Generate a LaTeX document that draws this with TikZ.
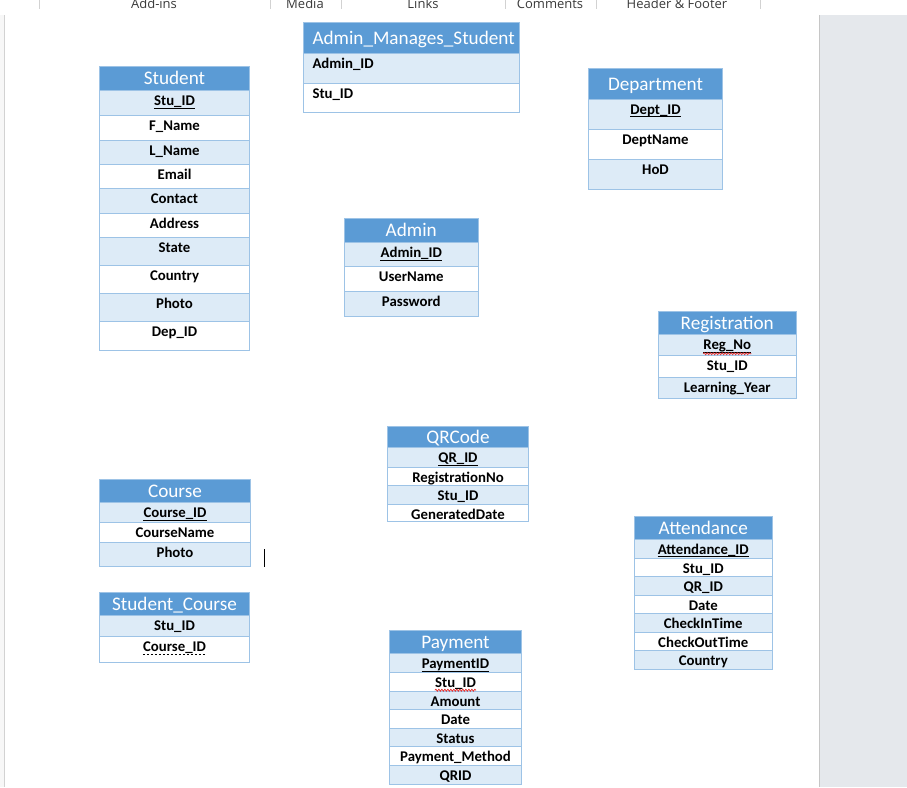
\documentclass[tikz,border=0pt]{standalone}
\usepackage{fontspec}
\setmainfont{Carlito}
\newfontfamily\uifont{Open Sans}
\usetikzlibrary{calc,decorations.pathmorphing}
\definecolor{hdblue}{HTML}{5B9BD5}
\definecolor{rowblue}{HTML}{DDEBF7}
\definecolor{bdr}{HTML}{9DC3E6}
\definecolor{panel}{HTML}{E5E8EC}
\definecolor{uigray}{HTML}{3A3A3A}
\definecolor{wavered}{HTML}{E02828}
\tikzset{
  cellst/.style={rectangle, draw=bdr, line width=0.8pt, inner sep=0pt, outer sep=0pt, anchor=north west},
  hdst/.style={cellst, fill=hdblue},
  ht/.style={inner sep=0pt, text=white, font=\fontsize{19.2}{22}\selectfont},
  ct/.style={inner sep=0pt, text=black, font=\fontsize{14.8}{17}\selectfont\bfseries},
  tx-north/.style={anchor=base},
  tx-north west/.style={anchor=base west},
  nodec/.style={draw=none},
  ulsolid/.style={draw=black, line width=0.8pt},
  uldash/.style={draw=black, line width=0.8pt, dash pattern=on 2.5pt off 1.5pt},
  wavy/.style={draw=wavered, line width=0.7pt, decorate, decoration={snake, segment length=3pt, amplitude=1pt}},
  uitext/.style={inner sep=0pt, anchor=base, text=uigray, font=\uifont\fontsize{13}{15}\selectfont},
  sep/.style={draw=gray!35, line width=0.8pt}
}
% #1 name, #2 x1, #3 x2, #4 y top, #5 y header bottom, #6 title, #7 cell anchor, #8 x offset, #9 rows
\newcommand\ertable[9]{%
  \node[hdst, minimum width={(#3-#2)*1pt}, minimum height={(#5-#4)*1pt}] (#1-h) at (#2,#4) {};
  \node[ht, tx-#7, xshift=#8pt, yshift=-6.3pt] (#1-ht) at (#1-h.center -| #1-h.#7) {#6};
  \foreach \i/\ya/\yb/\txt/\fl/\dec in {#9}{%
    \node[cellst, fill=\fl, minimum width={(#3-#2)*1pt}, minimum height={(\yb-\ya)*1pt}] (#1-\i) at (#2,\ya) {};
    \node[ct, tx-#7, xshift=#8pt, yshift=-15.2pt] (#1-\i t) at (#1-\i.#7) {\txt};
    \draw[\dec] ([yshift=-2.3pt]#1-\i t.base west) -- ([yshift=-2.3pt]#1-\i t.base east);
  }%
}
\begin{document}
\begin{tikzpicture}[x=1pt,y=-1pt]
\useasboundingbox (0,0) rectangle (907,787);
\clip (0,0) rectangle (907,787);
\fill[white] (0,0) rectangle (907,787);
% window chrome
\fill[gray!6] (0,15) rectangle (4,787);
\draw[gray!35, line width=0.8pt] (4.5,15) -- (4.5,787);
\fill[panel] (819,15) rectangle (907,787);
\draw[gray!45, line width=1pt] (819.5,15) -- (819.5,787);
% ribbon labels
\node[uitext] (t1) at (154,8.5) {Add-ins};
\node[uitext] (t2) at (305,8.5) {Media};
\node[uitext] (t3) at (423,8.5) {Links};
\node[uitext] (t4) at (550,8.5) {Comments};
\node[uitext] (t5) at (677,8.5) {Header \& Footer};
\foreach \sx in {39,270,341,505.5,596,760.5}{\draw[sep] (\sx,0) -- (\sx,8.5);}

% tables
\ertable{stu}{99.5}{249.5}{66}{90.5}{Student}{north}{0}{%
  1/90.5/115/Stu\_ID/rowblue/ulsolid,
  2/115/140/F\_Name/white/nodec,
  3/140/164/L\_Name/rowblue/nodec,
  4/164/188.5/Email/white/nodec,
  5/188.5/213/Contact/rowblue/nodec,
  6/213/237.5/Address/white/nodec,
  7/237.5/265/State/rowblue/nodec,
  8/265/293/Country/white/nodec,
  9/293/321/Photo/rowblue/nodec,
  10/321/350/Dep\_ID/white/nodec}

\ertable{ams}{303.5}{519.5}{22.5}{53.5}{Admin\_Manages\_Student}{north west}{8.8}{%
  1/53.5/83.5/Admin\_ID/rowblue/nodec,
  2/83.5/112/Stu\_ID/white/nodec}

\ertable{dep}{588.5}{722.5}{68.5}{99}{Department}{north}{0}{%
  1/99/129/Dept\_ID/rowblue/ulsolid,
  2/129/159/DeptName/white/nodec,
  3/159/189/HoD/rowblue/nodec}

\ertable{adm}{344}{478.5}{218.5}{242.5}{Admin}{north}{0}{%
  1/242.5/266.5/Admin\_ID/rowblue/ulsolid,
  2/266.5/291.5/UserName/white/nodec,
  3/291.5/316.5/Password/rowblue/nodec}

\ertable{reg}{658}{796.5}{311.5}{334.5}{Registration}{north}{0}{%
  1/334.5/355.5/Reg\_No/rowblue/ulsolid,
  2/355.5/377.5/Stu\_ID/white/nodec,
  3/377.5/398.5/Learning\_Year/rowblue/nodec}
\draw[wavy] ([yshift=-4pt]reg-1t.base west) -- ([yshift=-4pt]reg-1t.base east);

\ertable{qr}{387.5}{528.5}{426}{447.5}{QRCode}{north}{0}{%
  1/447.5/467/QR\_ID/rowblue/ulsolid,
  2/467/485.5/RegistrationNo/white/nodec,
  3/485.5/504/Stu\_ID/rowblue/nodec,
  4/504/521.5/GeneratedDate/white/nodec}

\ertable{crs}{99.5}{250.5}{479.5}{502.5}{Course}{north}{0}{%
  1/502.5/522.5/Course\_ID/rowblue/ulsolid,
  2/522.5/542.5/CourseName/white/nodec,
  3/542.5/566.5/Photo/rowblue/nodec}

\ertable{sc}{99.5}{249.5}{592.5}{615.5}{Student\_Course}{north}{0}{%
  1/615.5/636.5/Stu\_ID/rowblue/nodec,
  2/636.5/662/Course\_ID/white/uldash}

\ertable{att}{634}{772.5}{516.5}{539}{Attendance}{north}{0}{%
  1/539/558/Attendance\_ID/rowblue/ulsolid,
  2/558/576.5/Stu\_ID/white/nodec,
  3/576.5/595/QR\_ID/rowblue/nodec,
  4/595/613.5/Date/white/nodec,
  5/613.5/632/CheckInTime/rowblue/nodec,
  6/632/650.5/CheckOutTime/white/nodec,
  7/650.5/669/Country/rowblue/nodec}

\ertable{pay}{389.5}{521.5}{630}{653.5}{Payment}{north}{0}{%
  1/653.5/672/PaymentID/rowblue/ulsolid,
  2/672/691/Stu\_ID/white/nodec,
  3/691/709.5/Amount/rowblue/nodec,
  4/709.5/728/Date/white/nodec,
  5/728/746.5/Status/rowblue/nodec,
  6/746.5/765.5/Payment\_Method/white/nodec,
  7/765.5/784/QRID/rowblue/nodec}
\draw[wavy] ([yshift=-3pt]pay-2t.base west) -- ([yshift=-3pt]pay-2t.base east);

% text cursor
\coordinate (cur1) at (264.5,549);
\coordinate (cur2) at (264.5,566.5);
\draw[black, line width=1pt] (cur1) -- (cur2);
\end{tikzpicture}
\end{document}
